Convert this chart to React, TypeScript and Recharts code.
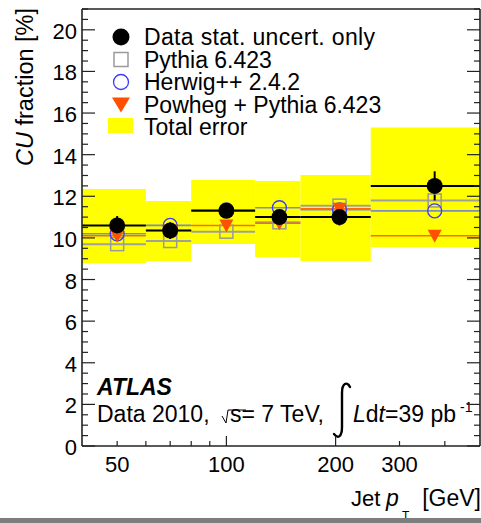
import React from 'react';
import {
  ComposedChart,
  Scatter,
  XAxis,
  YAxis,
  ReferenceArea,
  ErrorBar,
  Customized,
} from 'recharts';

// Jet pT bins [GeV]
const binLow = [40, 60, 80, 120, 160, 250];
const binHigh = [60, 80, 120, 160, 250, 500];
const binCenter = [50, 70, 100, 140, 205, 375];

// CU fraction [%]
const dataValues = [10.6, 10.35, 11.3, 11.0, 11.0, 12.5];
const dataStatErr = [0.45, 0.4, 0.3, 0.35, 0.4, 0.7];
const totalLow = [8.78, 8.89, 9.71, 9.08, 8.89, 9.56];
const totalHigh = [12.35, 11.77, 12.78, 12.73, 13.02, 15.3];
const pythiaValues = [9.7, 9.85, 10.3, 10.75, 11.55, 11.8];
const herwigValues = [10.2, 10.6, 11.35, 11.45, 11.35, 11.3];
const powhegValues = [10.1, 10.35, 10.6, 10.7, 11.4, 10.1];

// axis ticks
const xTicks = [50, 60, 70, 80, 90, 100, 200, 300, 400];
const xLabelTicks = [50, 100, 200, 300];
const xMajorTicks = [100, 200];
const yTicks = Array.from({ length: 43 }, (_, i) => i * 0.5);
const yLabelTicks = [0, 2, 4, 6, 8, 10, 12, 14, 16, 18, 20];

const FONT = '"Liberation Sans", Arial, Helvetica, sans-serif';
const TICK_FONT = 22;
const YELLOW = '#ffff00';
const FRAME = '#222';

const rows = (values: number[], errs?: number[]) =>
  values.map((v, i) => ({
    x: binCenter[i],
    y: v,
    xerr: [binCenter[i] - binLow[i], binHigh[i] - binCenter[i]],
    yerr: errs ? errs[i] : 0,
  }));

const dataRows = rows(dataValues, dataStatErr);
const pythiaRows = rows(pythiaValues);
const herwigRows = rows(herwigValues);
const powhegRows = rows(powhegValues);

const DataDot = (p: any) => <circle cx={p.cx} cy={p.cy} r={8} fill="#000" />;
const PythiaSquare = (p: any) => (
  <rect x={p.cx - 6.5} y={p.cy - 6.5} width={13} height={13} fill="none" stroke="#9a9a9a" strokeWidth={1.5} />
);
const HerwigCircle = (p: any) => (
  <circle cx={p.cx} cy={p.cy} r={7} fill="none" stroke="#3a3aff" strokeWidth={1.3} />
);
const PowhegTriangle = (p: any) => (
  <polygon
    points={`${p.cx - 7},${p.cy - 6} ${p.cx + 7},${p.cy - 6} ${p.cx},${p.cy + 7}`}
    fill="#ff4f00"
  />
);

const LeftTick = (p: any) => {
  const v = p.payload.value;
  const major = yLabelTicks.includes(v);
  return (
    <g>
      <line x1={p.x} x2={p.x + (major ? 13 : 6)} y1={p.y} y2={p.y} stroke={FRAME} strokeWidth={1.2} />
      {major && (
        <text x={p.x - 5} y={p.y + 9} textAnchor="end" fontSize={TICK_FONT} fontFamily={FONT} fill="#000">
          {v}
        </text>
      )}
    </g>
  );
};

const RightTick = (p: any) => {
  const v = p.payload.value;
  const major = yLabelTicks.includes(v);
  return <line x1={p.x} x2={p.x - (major ? 13 : 6)} y1={p.y} y2={p.y} stroke={FRAME} strokeWidth={1.2} />;
};

const BottomTick = (p: any) => {
  const v = p.payload.value;
  const major = xMajorTicks.includes(v);
  return (
    <g>
      <line x1={p.x} x2={p.x} y1={p.y} y2={p.y - (major ? 10 : 5)} stroke={FRAME} strokeWidth={1.2} />
      {xLabelTicks.includes(v) && (
        <text x={p.x} y={p.y + 26} textAnchor="middle" fontSize={TICK_FONT} fontFamily={FONT} fill="#000">
          {v}
        </text>
      )}
    </g>
  );
};

const TopTick = (p: any) => {
  const v = p.payload.value;
  const major = xMajorTicks.includes(v);
  return <line x1={p.x} x2={p.x} y1={p.y} y2={p.y + (major ? 10 : 5)} stroke={FRAME} strokeWidth={1.2} />;
};

const LEG_FONT = 23;
const legendRows = [
  'Data stat. uncert. only',
  'Pythia 6.423',
  'Herwig++ 2.4.2',
  'Powheg + Pythia 6.423',
  'Total error',
];
const legendBaselines = [45, 67.5, 90, 112.5, 135];

const Annotations = () => {
  const mx = 121;
  const cy = legendBaselines.map((b) => b - 8);
  return (
    <g fontFamily={FONT} fill="#000">
      {/* legend */}
      <circle cx={mx} cy={cy[0]} r={8.5} fill="#000" />
      <rect x={mx - 7} y={cy[1] - 7} width={14} height={14} fill="none" stroke="#9a9a9a" strokeWidth={1.5} />
      <circle cx={mx} cy={cy[2]} r={7.5} fill="none" stroke="#3a3aff" strokeWidth={1.3} />
      <polygon points={`${mx - 9},${cy[3] - 7} ${mx + 9},${cy[3] - 7} ${mx},${cy[3] + 8}`} fill="#ff4f00" />
      <rect x={108} y={118} width={25} height={15} fill={YELLOW} />
      {legendRows.map((t, i) => (
        <text key={t} x={144} y={legendBaselines[i]} fontSize={LEG_FONT} textLength={i === 0 ? 231 : undefined}>
          {t}
        </text>
      ))}

      {/* y-axis title */}
      <text transform="rotate(-90)" x={-8} y={33} textAnchor="end" fontSize={23.5}>
        <tspan fontStyle="italic">CU</tspan>
        <tspan> fraction [%]</tspan>
      </text>

      {/* x-axis title */}
      <text x={351} y={506} fontSize={22}>Jet</text>
      <text x={386} y={506} fontSize={23} fontStyle="italic">p</text>
      <text x={402} y={520} fontSize={12}>T</text>
      <text x={481} y={506} fontSize={23} textAnchor="end">[GeV]</text>

      {/* experiment label */}
      <text x={97} y={395} fontSize={23} fontWeight="bold" fontStyle="italic">ATLAS</text>
      <text x={97} y={422} fontSize={23}>Data 2010,</text>
      <path d="M222 416 L226 423 L228 410 L246 410" fill="none" stroke="#000" strokeWidth={1} />
      <text x={230} y={422} fontSize={23}>s= 7 TeV,</text>
      <path
        d="M350 387 C347 381 342 383 342 393 L342 427 C342 437 338 439 334 434"
        fill="none"
        stroke="#000"
        strokeWidth={2.4}
        strokeLinecap="round"
      />
      <text x={353} y={422} fontSize={23}>
        <tspan fontStyle="italic">L</tspan>
        <tspan>d</tspan>
        <tspan fontStyle="italic">t</tspan>
        <tspan>=39 pb</tspan>
      </text>
      <text x={460} y={412} fontSize={14}>-1</text>

      {/* bottom strip */}
      <rect x={0} y={518} width={481} height={5} fill="#7d7d7d" />
    </g>
  );
};

export default function App() {
  return (
    <div style={{ position: 'absolute', left: 0, top: 0, width: 481, height: 523, background: '#fff' }}>
      <ComposedChart width={481} height={523} margin={{ top: 0, right: 0, bottom: 0, left: 0 }}>
        <XAxis
          xAxisId={0}
          dataKey="x"
          type="number"
          scale="log"
          domain={[40, 500]}
          allowDataOverflow
          ticks={xTicks}
          interval={0}
          height={77}
          tickSize={0}
          tickMargin={0}
          tickLine={false}
          tick={(p: any) => <BottomTick {...p} />}
          axisLine={{ stroke: FRAME, strokeWidth: 1.6 }}
        />
        <XAxis
          xAxisId="top"
          orientation="top"
          type="number"
          scale="log"
          domain={[40, 500]}
          allowDataOverflow
          ticks={xTicks}
          interval={0}
          height={9}
          tickSize={0}
          tickMargin={0}
          tickLine={false}
          tick={(p: any) => <TopTick {...p} />}
          axisLine={{ stroke: FRAME, strokeWidth: 1.6 }}
        />
        <YAxis
          yAxisId={0}
          dataKey="y"
          type="number"
          domain={[0, 21]}
          allowDataOverflow
          ticks={yTicks}
          interval={0}
          width={82}
          tickSize={0}
          tickMargin={0}
          tickLine={false}
          tick={(p: any) => <LeftTick {...p} />}
          axisLine={{ stroke: FRAME, strokeWidth: 1.6 }}
        />
        <YAxis
          yAxisId="right"
          orientation="right"
          type="number"
          domain={[0, 21]}
          allowDataOverflow
          ticks={yTicks}
          interval={0}
          width={1}
          tickSize={0}
          tickMargin={0}
          tickLine={false}
          tick={(p: any) => <RightTick {...p} />}
          axisLine={{ stroke: FRAME, strokeWidth: 1.6 }}
        />

        {binLow.map((lo, i) => (
          <ReferenceArea
            key={`tot-${i}`}
            x1={lo}
            x2={binHigh[i]}
            y1={totalLow[i]}
            y2={totalHigh[i]}
            fill={YELLOW}
            fillOpacity={1}
            stroke="none"
            ifOverflow="visible"
          />
        ))}

        <Scatter data={pythiaRows} dataKey="y" isAnimationActive={false} shape={(p: any) => <PythiaSquare {...p} />}>
          <ErrorBar dataKey="xerr" direction="x" width={0} stroke="#a0a0a0" strokeWidth={2} />
        </Scatter>
        <Scatter data={herwigRows} dataKey="y" isAnimationActive={false} shape={(p: any) => <HerwigCircle {...p} />}>
          <ErrorBar dataKey="xerr" direction="x" width={0} stroke="#7d8cc0" strokeWidth={1.6} />
        </Scatter>
        <Scatter data={powhegRows} dataKey="y" isAnimationActive={false} shape={(p: any) => <PowhegTriangle {...p} />}>
          <ErrorBar dataKey="xerr" direction="x" width={0} stroke="#ff6a10" strokeWidth={1.5} />
        </Scatter>
        <Scatter data={dataRows} dataKey="y" isAnimationActive={false} shape={(p: any) => <DataDot {...p} />}>
          <ErrorBar dataKey="xerr" direction="x" width={0} stroke="#000" strokeWidth={2} />
          <ErrorBar dataKey="yerr" direction="y" width={0} stroke="#000" strokeWidth={2} />
        </Scatter>

        <Customized component={<Annotations />} />
      </ComposedChart>
    </div>
  );
}
